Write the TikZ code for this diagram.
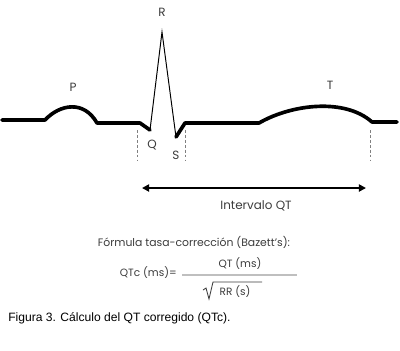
\documentclass[tikz,border=0pt]{standalone}
\usepackage{fontspec}
\usepackage{xcolor}
\usepackage{tikz}
\usetikzlibrary{arrows.meta,positioning,calc}
\newfontfamily\ecgfont{Poppins}
\newfontfamily\capfont{Liberation Sans}
\definecolor{ecggray}{RGB}{60,60,60}
\tikzset{
    wave/.style={line width=2.6pt,line join=round,line cap=round},
    spike/.style={line width=0.7pt,line join=miter},
    guide/.style={dashed,gray,line width=0.6pt,dash pattern=on 2pt off 1.5pt},
    lbl/.style={font=\ecgfont\fontsize{7.5}{9}\selectfont,text=ecggray,inner sep=0pt},
    wavelbl/.style={lbl,font=\ecgfont\fontsize{8.5}{10}\selectfont},
}

\begin{document}
\begin{tikzpicture}[x=0.025cm,y=-0.025cm]
            \useasboundingbox[fill=white] (0,0) rectangle (400,350);
            
            % Wave points
            \coordinate (qstart) at (140,123);
            \coordinate (qpt) at (150,130);
            \coordinate (rpt) at (162,32);
            \coordinate (spt) at (176,137);
            \coordinate (send) at (185,123);
            \coordinate (tend) at (372,122);
            
            % Waves
            \draw[wave] (2,120) -- (45,120) .. controls (60,104) and (84,100) .. (97,123) -- (qstart) -- (qpt);
            \draw[spike] (qpt) -- (rpt) -- (spt);
            \draw[wave] (spt) -- (send) -- (259,123) .. controls (292,104) and (345,98) .. (tend) -- (397,122);
            
            % Labels
            \node[wavelbl] (p) at (73,87) {P};
            \node[wavelbl] (r) at (162,12) {R};
            \node[wavelbl] (q) at (152,145) {Q};
            \node[wavelbl] (s) at (176,155) {S};
            \node[wavelbl] (t) at (330,85) {T};
            
            % Guides
            \coordinate (gq) at (137,130);
            \coordinate (gs) at (185,130);
            \coordinate (gt) at (370,130);
            \draw[guide] (gq) -- ++(0,30);
            \draw[guide] (gs) -- ++(0,30);
            \draw[guide] (gt) -- ++(0,30);
            
            % Interval
            \coordinate (ia) at (142,188);
            \coordinate (ib) at (366,188);
            \draw[line width=1.4pt,{Triangle[length=5pt,width=5pt]}-{Triangle[length=5pt,width=5pt]}] (ia) -- (ib);
            \node[wavelbl] (interval) at (256,206) {Intervalo QT};
            
            % Formula
            \node[lbl,font=\ecgfont\fontsize{7.7}{9}\selectfont] (title) at (194,242) {Fórmula tasa-corrección (Bazett’s):};
            \node[lbl,anchor=east] (qtc) at (177,273) {QTc (ms)=};
            \coordinate (fa) at (182,275);
            \coordinate (fb) at (297,275);
            \draw[gray!50,line width=0.8pt] (fa) -- (fb);
            \node[lbl] (num) at (240,264) {QT (ms)};
            \node[lbl] (den) at (235,292) {RR (s)};
            \draw[ecggray,line width=0.6pt] (203,290) -- (206,288) -- (209,299) -- (213,282) -- (262,282);
            
            % Caption
            \node[font=\capfont\fontsize{8.6}{10}\selectfont,anchor=west,inner sep=0pt] (caption) at (8,318) {Figura 3. Cálculo del QT corregido (QTc).};
        \end{tikzpicture}
\end{document}
